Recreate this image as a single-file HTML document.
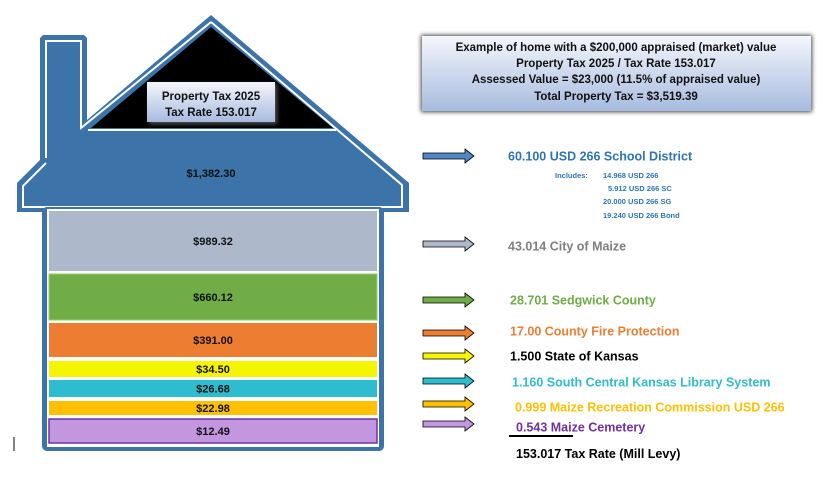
<!DOCTYPE html>
<html><head><meta charset="utf-8"><style>
body{margin:0;background:#fff;width:840px;height:484px;overflow:hidden;font-family:"Liberation Sans",sans-serif}
svg text{font-family:"Liberation Sans",sans-serif;font-weight:bold}
</style></head><body>
<svg width="840" height="484" viewBox="0 0 840 484">
<defs>
<linearGradient id="gb" x1="0" y1="0" x2="0" y2="1"><stop offset="0" stop-color="#f4f6fb"/><stop offset="1" stop-color="#a7bbdf"/></linearGradient>
<filter id="sh" x="-10%" y="-20%" width="120%" height="140%"><feGaussianBlur stdDeviation="2"/></filter>
</defs>
<g>
<polygon points="211,15 409,183 409,212 17,212 17,183 40,160 40,38 43,35 84,35 87,38 87,120" fill="#3c73a8"/>
<polyline points="46,158 46,41 81,41 81,128 211,22" fill="none" stroke="#fff" stroke-width="2"/>
<polyline points="211,22 402,185 402,207 23,207 23,186 46,163" fill="none" stroke="#fff" stroke-width="2"/>
<rect x="42" y="207" width="342" height="244" rx="5" fill="#3c73a8"/>
<polygon points="211,27 333,128 91,128" fill="#000"/>
<line x1="88" y1="130" x2="336" y2="130" stroke="#fff" stroke-width="2"/>
<rect x="47" y="209" width="332" height="238" fill="#fff"/>
</g>
<g id="bands"></g>
<text x="211" y="177" text-anchor="middle" font-size="11" fill="#111">$1,382.30</text>
<g>
<rect x="149" y="84" width="128" height="40" fill="#555" filter="url(#sh)"/>
<rect x="147" y="82" width="128" height="40" fill="url(#gb)"/>
<text x="211" y="100" text-anchor="middle" font-size="11.5" fill="#111">Property Tax 2025</text>
<text x="211" y="116" text-anchor="middle" font-size="11.5" fill="#111">Tax Rate 153.017</text>
</g>
<g>
<rect x="421" y="35" width="391" height="77" fill="#444" filter="url(#sh)"/>
<rect x="422" y="36" width="389" height="75" fill="url(#gb)"/>
<text x="616" y="51" text-anchor="middle" font-size="11.5" fill="#111">Example of home with a $200,000 appraised (market) value</text>
<text x="616" y="67" text-anchor="middle" font-size="11.5" fill="#111">Property Tax 2025 / Tax Rate 153.017</text>
<text x="616" y="83" text-anchor="middle" font-size="11.5" fill="#111">Assessed Value = $23,000 (11.5% of appraised value)</text>
<text x="616" y="100" text-anchor="middle" font-size="11.5" fill="#111">Total Property Tax = $3,519.39</text>
</g>
<g id="legend"></g>
<g>
<text x="555" y="178" fill="#2e75b6" font-size="7.5">Includes:</text>
<text x="603" y="178" fill="#2e75b6" font-size="7.5">14.968 USD 266</text>
<text x="608" y="191" fill="#2e75b6" font-size="7.5">5.912 USD 266 SC</text>
<text x="603" y="204" fill="#2e75b6" font-size="7.5">20.000 USD 266 SG</text>
<text x="603" y="218" fill="#2e75b6" font-size="7.5">19.240 USD 266 Bond</text>
</g>
<line x1="509" y1="436" x2="573" y2="436" stroke="#000" stroke-width="2"/>
<text x="516" y="458" font-size="12.5" fill="#000">153.017 Tax Rate (Mill Levy)</text>
<line x1="14" y1="437" x2="14" y2="451" stroke="#000" stroke-width="1"/>
</svg>
<script>
const bandLabels=["$989.32","$660.12","$391.00","$34.50","$26.68","$22.98","$12.49"];
const bandColors=["#adb9ca","#70ad47","#ed7d31","#f5f500","#2ebdcf","#ffc000","#c297df"];
const bandTops=[211,274,323,361,380,401,419];
const bandHeights=[60,46,34,16,17,14,24];
const legendNames=["60.100 USD 266 School District","43.014 City of Maize","28.701 Sedgwick County","17.00 County Fire Protection","1.500 State of Kansas","1.160 South Central Kansas Library System","0.999 Maize Recreation Commission USD 266","0.543 Maize Cemetery"];
const legendColors=["#2e75b6","#7f7f7f","#70ad47","#ed7d31","#000000","#31bbcd","#ffc000","#7030a0"];
const arrowFill=["#4f86c6","#adb9ca","#70ad47","#ed7d31","#f5f500","#2ebdcf","#ffc000","#c297df"];
const legendY=[156,246,300,331,356,382,407,427];
const arrowY=[156,244,300,333,356,381,404,424];
const legendX=[508,508,510,510,510,512,515,516];
const NS="http://www.w3.org/2000/svg";
const bg=document.getElementById('bands');
bandLabels.forEach((l,i)=>{
  const r=document.createElementNS(NS,'rect');
  r.setAttribute('x',49);r.setAttribute('y',bandTops[i]);r.setAttribute('width',328);r.setAttribute('height',bandHeights[i]);
  r.setAttribute('fill',bandColors[i]);
  if(i==1){r.setAttribute('stroke','#8fd15a');r.setAttribute('stroke-width','1');}
  if(i==6){r.setAttribute('stroke','#7030a0');r.setAttribute('stroke-width','1.5');}
  
  
  bg.appendChild(r);
  const t=document.createElementNS(NS,'text');
  t.setAttribute('x',213);t.setAttribute('y',bandTops[i]+bandHeights[i]/2+4);
  t.setAttribute('text-anchor','middle');t.setAttribute('font-size','11');t.setAttribute('fill','#111');
  t.textContent=l;
  
  
  bg.appendChild(t);
});
const lg=document.getElementById('legend');
legendNames.forEach((n,i)=>{
  const y=arrowY[i];
  const p=document.createElementNS(NS,'polygon');
  p.setAttribute('points',`423,${y-3} 465,${y-3} 465,${y-7} 474,${y} 465,${y+7} 465,${y+3} 423,${y+3}`);
  p.setAttribute('fill',arrowFill[i]);p.setAttribute('stroke','#000');p.setAttribute('stroke-width','0.8');
  
  
  lg.appendChild(p);
  const t=document.createElementNS(NS,'text');
  t.setAttribute('x',legendX[i]);t.setAttribute('y',legendY[i]+4.5);
  t.setAttribute('font-size','12.5');t.setAttribute('fill',legendColors[i]);
  t.textContent=n;
  
  
  lg.appendChild(t);
});
</script>
</body></html>
